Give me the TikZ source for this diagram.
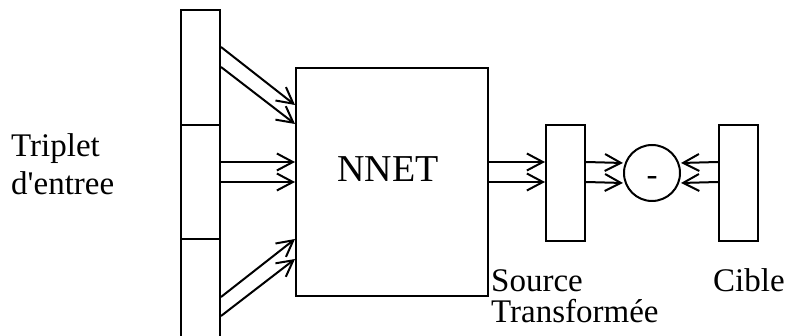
\documentclass[tikz,border=0pt]{standalone}
\usepackage{fontspec}
\setmainfont{Liberation Serif}[Ligatures=TeXOff]
\usetikzlibrary{arrows.meta,calc,positioning}
\tikzset{
  block/.style={draw, line width=2pt, inner sep=0pt},
  feed/.style={-{Straight Barb[length=16pt,width=17pt]}, line width=2pt},
  lbl/.style={anchor=base west, inner sep=0pt, font=\fontsize{33}{36}\selectfont}
}
\begin{document}
\begin{tikzpicture}[x=1pt, y=-1pt]
  \useasboundingbox (0,0) rectangle (785,336);

  % Input triplet column
  \node[block, minimum width=39, minimum height=115] (in1) at (200.5,67.5) {};
  \node[block, minimum width=39, minimum height=114] (in2) at (200.5,182) {};
  \node[block, minimum width=39, minimum height=121] (in3) at (200.5,299.5) {};

  % Network, transformed source, target
  \node[block, minimum width=192, minimum height=228] (nnet) at (392,182) {};
  \node[font=\fontsize{38}{40}\selectfont, anchor=base, inner sep=0pt] (nnetlbl) at (388,182) {NNET};
  \node[block, minimum width=39, minimum height=116] (src) at (565.5,183) {};
  \node[block, minimum width=39, minimum height=116] (cible) at (738.5,183) {};
  \node[block, circle, minimum size=56] (diff) at (652,173) {};
  \node[font=\fontsize{33}{36}\selectfont, inner sep=0pt, yshift=-8] (minus) at (diff) {-};

  % Inputs into the network
  \draw[feed] ([yshift=-38]in1.north east) -- ([yshift=-38]nnet.north west);
  \draw[feed] ([yshift=-58]in1.north east) -- ([yshift=-57]nnet.north west);
  \draw[feed] ([yshift=-38]in2.north east) -- ([yshift=-95]nnet.north west);
  \draw[feed] ([yshift=-58]in2.north east) -- ([yshift=-115]nnet.north west);
  \draw[feed] ([yshift=-59]in3.north east) -- ([yshift=-172]nnet.north west);
  \draw[feed] ([yshift=-78]in3.north east) -- ([yshift=-192]nnet.north west);

  % Network output
  \draw[feed] ([yshift=-95]nnet.north east) -- ([yshift=-38]src.north west);
  \draw[feed] ([yshift=-115]nnet.north east) -- ([yshift=-58]src.north west);

  % Difference
  \draw[feed] ([yshift=-38]src.north east) -- ([yshift=10]diff.west);
  \draw[feed] ([yshift=-58]src.north east) -- ([yshift=-10]diff.west);
  \draw[feed] ([yshift=-38]cible.north west) -- ([yshift=10]diff.east);
  \draw[feed] ([yshift=-58]cible.north west) -- ([yshift=-10]diff.east);

  % Labels
  \node[lbl] (tripA) at (11,157) {Triplet};
  \node[lbl] (tripB) at (11,195) {d'entree};
  \node[lbl] (srcA) at (491,292) {Source};
  \node[lbl] (srcB) at (491,323) {Transformée};
  \node[lbl] (cibA) at (713,292) {Cible};
\end{tikzpicture}
\end{document}
